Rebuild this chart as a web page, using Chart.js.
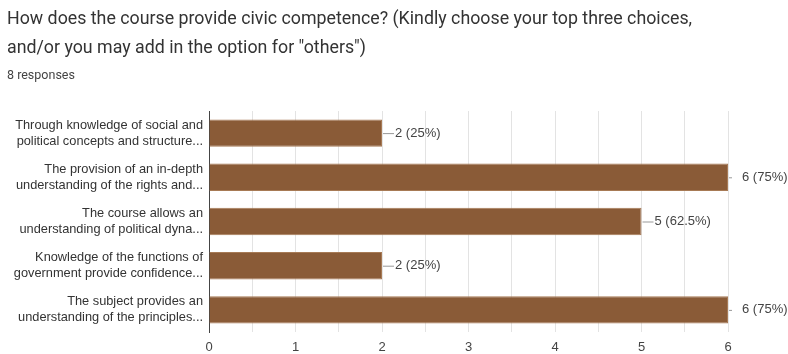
<!DOCTYPE html>
<html>
<head>
<meta charset="utf-8">
<script src="https://cdn.jsdelivr.net/npm/chart.js@4"></script>
<style>
    html, body { margin: 0; padding: 0; background: #fff; }
    #wrap { position: relative; width: 788px; height: 354px; overflow: hidden; }
    #chart { position: absolute; left: 0; top: 0; }
    .title { position: absolute; left: 7px; font-family: Roboto, 'Noto Sans', sans-serif; color: #333; white-space: nowrap; }
    #t1 { top: 7px; font-size: 17.8px; }
    #t2 { top: 36px; font-size: 17.8px; }
    #t3 { top: 67px; font-size: 12.5px; color: #444; }
</style>
</head>
<body>
<div id="wrap">
    <canvas id="chart" width="788" height="354"></canvas>
    <div class="title" id="t1">How does the course provide civic competence? (Kindly choose your top three choices,</div>
    <div class="title" id="t2">and/or you may add in the option for "others")</div>
    <div class="title" id="t3">8 responses</div>
</div>
<script>
// ============================================
// DATA
// ============================================
const categories = [
    ['Through knowledge of social and', 'political concepts and structure...'],
    ['The provision of an in-depth', 'understanding of the rights and...'],
    ['The course allows an', 'understanding of political dyna...'],
    ['Knowledge of the functions of', 'government provide confidence...'],
    ['The subject provides an', 'understanding of the principles...'],
];
const counts = [2, 6, 5, 2, 6];
const percentLabels = ['25%', '75%', '62.5%', '25%', '75%'];
const xTicks = [0, 1, 2, 3, 4, 5, 6];

const barColor = '#8a5b37';

// bar value labels with short leader line
const valueLabels = {
    id: 'valueLabels',
    afterDatasetsDraw(chart) {
        const ctx = chart.ctx;
        const area = chart.chartArea;
        const meta = chart.getDatasetMeta(0);
        ctx.save();
        ctx.font = '13px "Liberation Sans", Arial, sans-serif';
        ctx.textBaseline = 'middle';
        ctx.fillStyle = '#444';
        meta.data.forEach((bar, i) => {
            const text = counts[i] + ' (' + percentLabels[i] + ')';
            const w = ctx.measureText(text).width;
            let x = bar.x;
            ctx.strokeStyle = '#999';
            ctx.lineWidth = 1;
            if (x + 14 + w > area.right) {
                ctx.beginPath();
                ctx.moveTo(x + 1, bar.y + 0.5);
                ctx.lineTo(x + 4, bar.y + 0.5);
                ctx.stroke();
                ctx.fillText(text, area.right + 14, bar.y);
            } else {
                ctx.beginPath();
                ctx.moveTo(x + 1, bar.y + 0.5);
                ctx.lineTo(x + 12, bar.y + 0.5);
                ctx.stroke();
                ctx.fillText(text, x + 13, bar.y);
            }
        });
        ctx.restore();
    },
};

new Chart(document.getElementById('chart'), {
    type: 'bar',
    data: {
        labels: categories,
        datasets: [
            {
                data: counts,
                backgroundColor: barColor,
                borderColor: '#a77a55',
                borderWidth: 1,
                categoryPercentage: 0.62,
                barPercentage: 1,
            },
        ],
    },
    options: {
        indexAxis: 'y',
        responsive: false,
        animation: false,
        layout: {
            padding: { top: 111, right: 60, left: 0, bottom: 0 },
        },
        plugins: {
            legend: { display: false },
            tooltip: { enabled: false },
        },
        scales: {
            x: {
                min: xTicks[0],
                max: xTicks[xTicks.length - 1],
                afterFit(scale) { scale.height = 20; },
                border: { display: false },
                grid: { color: '#e3e3e3', drawTicks: false },
                ticks: {
                    stepSize: 0.5,
                    padding: 8,
                    color: '#444',
                    font: { family: '"Liberation Sans", Arial, sans-serif', size: 13 },
                    callback: function (value) {
                        return xTicks.includes(value) ? String(value) : '';
                    },
                },
            },
            y: {
                afterFit(scale) { scale.width = 209; },
                border: { display: true, color: '#444', width: 1 },
                grid: { display: false, drawTicks: false },
                ticks: {
                    padding: 6,
                    color: '#333',
                    font: { family: '"Liberation Sans", Arial, sans-serif', size: 12.8, lineHeight: 1.25 },
                },
            },
        },
    },
    plugins: [valueLabels],
});
</script>
</body>
</html>
